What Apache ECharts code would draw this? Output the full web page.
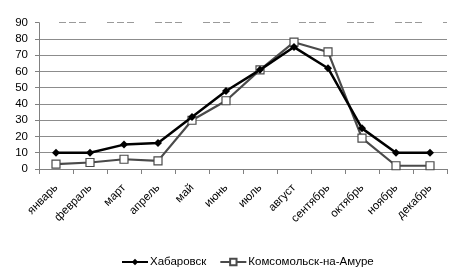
<!DOCTYPE html>
<html>
<head>
<meta charset="utf-8">
<script src="https://cdn.jsdelivr.net/npm/echarts@6/dist/echarts.min.js"></script>
<style>
html,body{margin:0;padding:0;background:#fff;}
#c{width:456px;height:268px;}
</style>
</head>
<body>
<div id="c"></div>
<script>
const categories = ['январь','февраль','март','апрель','май','июнь','июль','август','сентябрь','октябрь','ноябрь','декабрь'];
const seriesNames = ['Хабаровск','Комсомольск-на-Амуре'];
const khabarovsk = [10, 10, 15, 16, 32, 48, 61, 75, 62, 25, 10, 10];
const komsomolsk = [3, 4, 6, 5, 30, 42, 61, 78, 72, 19, 2, 2];
const yMin = 0, yMax = 90, yStep = 10;

const chart = echarts.init(document.getElementById('c'), null, {renderer:'canvas'});
const gridColors = [];
for (let v = yMin; v <= yMax; v += yStep) gridColors.push(v === yMax ? 'rgba(0,0,0,0)' : '#8c8c8c');

chart.setOption({
  animation: false,
  backgroundColor: '#fff',
  textStyle: {fontFamily: 'Liberation Sans, Arial, sans-serif'},
  grid: {left: 39, right: 9, top: 22.7, bottom: 99},
  legend: {
    top: 251,
    left: 116,
    itemWidth: 26,
    itemHeight: 8,
    itemGap: 13,
    textStyle: {fontSize: 11.5, color: '#000', padding: [0,0,0,-3]},
    data: seriesNames
  },
  xAxis: {
    type: 'category',
    data: categories,
    boundaryGap: true,
    axisLine: {lineStyle: {color: '#808080', width: 1}},
    axisTick: {show: true, length: 5, lineStyle: {color: '#808080'}},
    axisLabel: {rotate: 45, fontSize: 11.5, color: '#000', margin: 17, interval: 0}
  },
  yAxis: {
    type: 'value',
    min: yMin, max: yMax, interval: yStep,
    axisLine: {show: true, lineStyle: {color: '#808080', width: 1}},
    axisTick: {show: true, length: 4, lineStyle: {color: '#808080'}},
    axisLabel: {fontSize: 11.5, color: '#000', margin: 11},
    splitLine: {show: true, lineStyle: {color: gridColors, width: 1}}
  },
  series: [
    {
      name: seriesNames[0],
      type: 'line',
      data: khabarovsk,
      symbol: 'diamond',
      symbolSize: 8,
      itemStyle: {color: '#000'},
      lineStyle: {color: '#000', width: 2.5},
      z: 3,
      markLine: {
        silent: true,
        symbol: 'none',
        label: {show: false},
        lineStyle: {color: '#9a9a9a', width: 1, type: [7,3,7,3,7,21], dashOffset: 28},
        data: [{yAxis: yMax}]
      }
    },
    {
      name: seriesNames[1],
      type: 'line',
      data: komsomolsk,
      symbol: 'rect',
      symbolSize: 8,
      itemStyle: {color: '#fff', borderColor: '#4a4a4a', borderWidth: 1.2},
      lineStyle: {color: '#4a4a4a', width: 2.2},
      z: 2
    }
  ]
});
</script>
</body>
</html>
